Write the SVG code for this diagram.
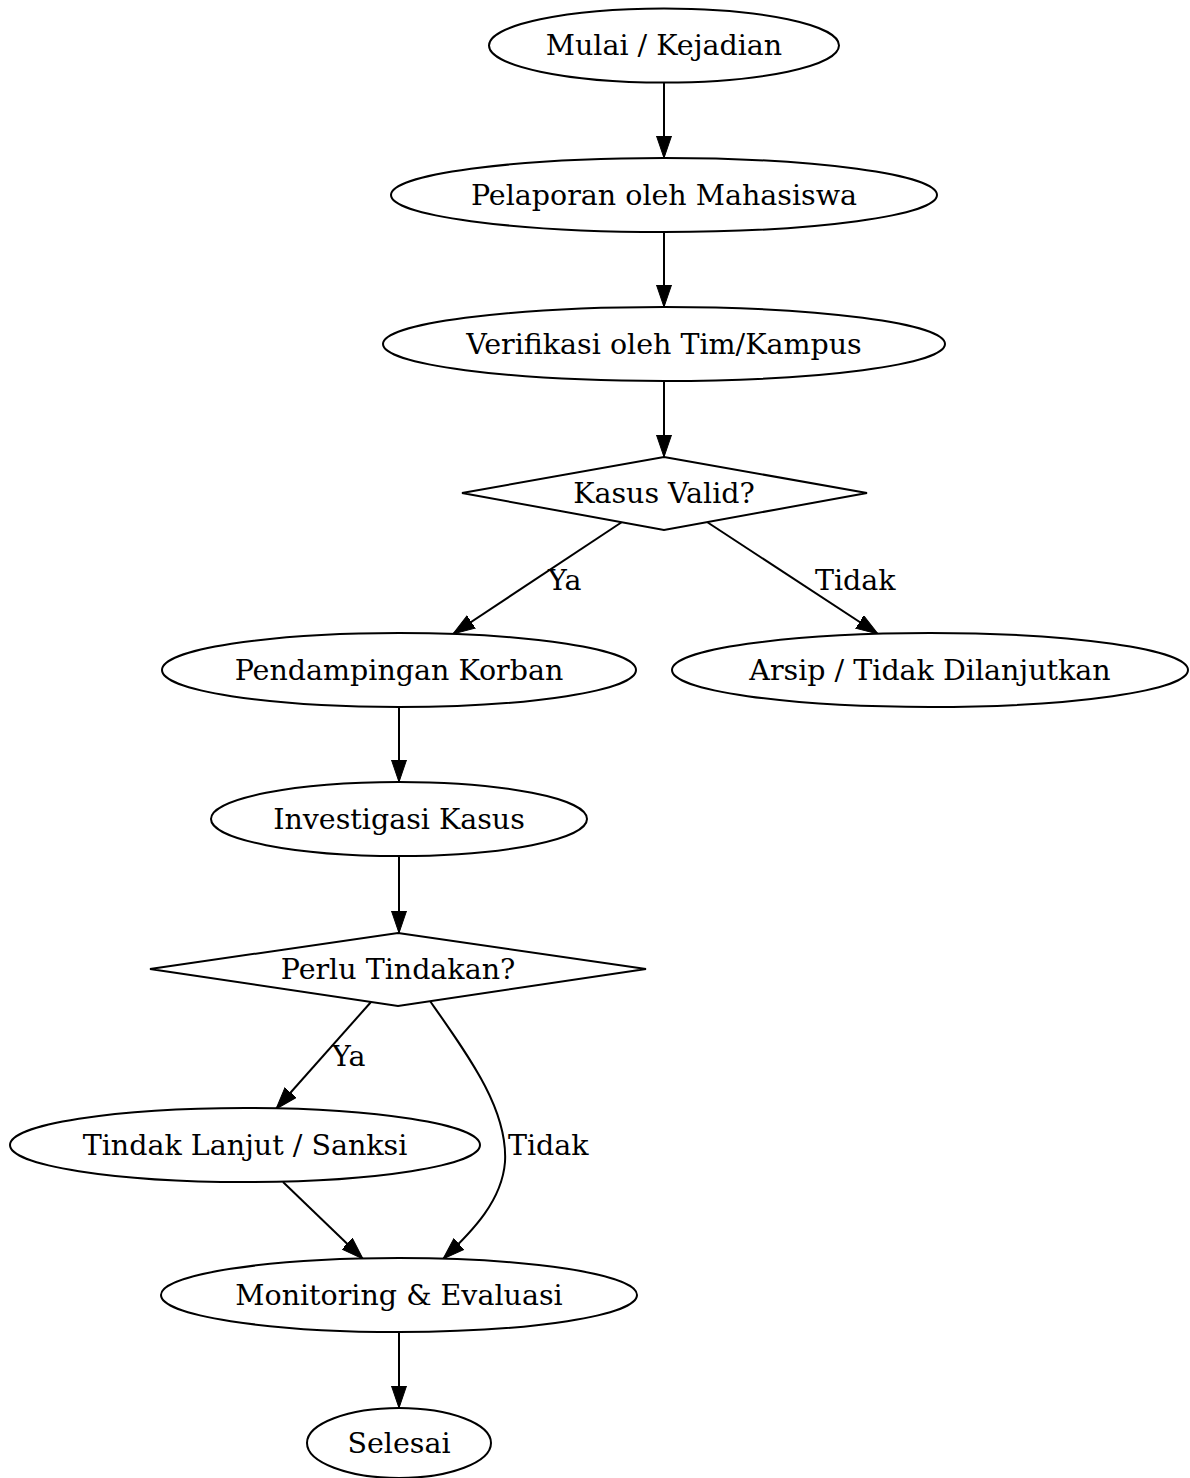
<svg xmlns="http://www.w3.org/2000/svg" width="1190" height="1478" viewBox="0 0 1190 1478">
<style>
  .n { fill: #ffffff; stroke: #000000; stroke-width: 2; }
  .t { font-family: "DejaVu Serif", serif; font-size: 28.5px; fill: #000000; text-anchor: middle; }
  .l { font-family: "DejaVu Serif", serif; font-size: 28.5px; fill: #000000; text-anchor: start; }
  .e { fill: none; stroke: #000000; stroke-width: 2; marker-end: url(#arr); }
</style>
<defs>
  <marker id="arr" markerUnits="userSpaceOnUse" markerWidth="23" markerHeight="17" refX="22" refY="8" orient="auto">
    <path d="M0,0.5 L22,8 L0,15.5 Z" fill="#000000" stroke="#000000" stroke-width="1"/>
  </marker>
</defs>
<rect width="1190" height="1478" fill="#ffffff"/>
<g id="edges">
  <path class="e" d="M664,83 L664,158"/>
  <path class="e" d="M664,232 L664,307"/>
  <path class="e" d="M664,381 L664,457"/>
  <path class="e" d="M622,522 L453,634"/>
  <path class="e" d="M707,522 L878,634"/>
  <path class="e" d="M399,707 L399,782"/>
  <path class="e" d="M399,856 L399,933"/>
  <path class="e" d="M371,1002 L276,1109"/>
  <path class="e" d="M430,1001 C470,1058 508,1110 505,1162 C502,1200 474,1230 443,1259"/>
  <path class="e" d="M283,1182 L363,1259"/>
  <path class="e" d="M399,1332 L399,1408"/>
  <text class="l" x="548" y="590">Ya</text>
  <text class="l" x="815" y="590">Tidak</text>
  <text class="l" x="332" y="1066">Ya</text>
  <text class="l" x="508" y="1155">Tidak</text>
</g>
<g id="n1"><ellipse class="n" cx="664" cy="45.5" rx="175" ry="37"/><text class="t" x="664" y="55">Mulai / Kejadian</text></g>
<g id="n2"><ellipse class="n" cx="664" cy="195" rx="273" ry="37"/><text class="t" x="664" y="205">Pelaporan oleh Mahasiswa</text></g>
<g id="n3"><ellipse class="n" cx="664" cy="344" rx="281" ry="37"/><text class="t" x="664" y="354">Verifikasi oleh Tim/Kampus</text></g>
<g id="n4"><polygon class="n" points="664,457 867,493 664,530 462,493"/><text class="t" x="664" y="503">Kasus Valid?</text></g>
<g id="n5"><ellipse class="n" cx="399" cy="670" rx="237" ry="37"/><text class="t" x="399" y="680">Pendampingan Korban</text></g>
<g id="n6"><ellipse class="n" cx="930" cy="670" rx="258" ry="37"/><text class="t" x="930" y="680">Arsip / Tidak Dilanjutkan</text></g>
<g id="n7"><ellipse class="n" cx="399" cy="819" rx="188" ry="37"/><text class="t" x="399" y="829">Investigasi Kasus</text></g>
<g id="n8"><polygon class="n" points="398,933 646,969 398,1006 150,969"/><text class="t" x="398" y="979">Perlu Tindakan?</text></g>
<g id="n9"><ellipse class="n" cx="245" cy="1145" rx="235" ry="37"/><text class="t" x="245" y="1155">Tindak Lanjut / Sanksi</text></g>
<g id="n10"><ellipse class="n" cx="399" cy="1295" rx="238" ry="37"/><text class="t" x="399" y="1305">Monitoring &amp; Evaluasi</text></g>
<g id="n11"><ellipse class="n" cx="399" cy="1443" rx="92" ry="35"/><text class="t" x="399" y="1453">Selesai</text></g>
</svg>
